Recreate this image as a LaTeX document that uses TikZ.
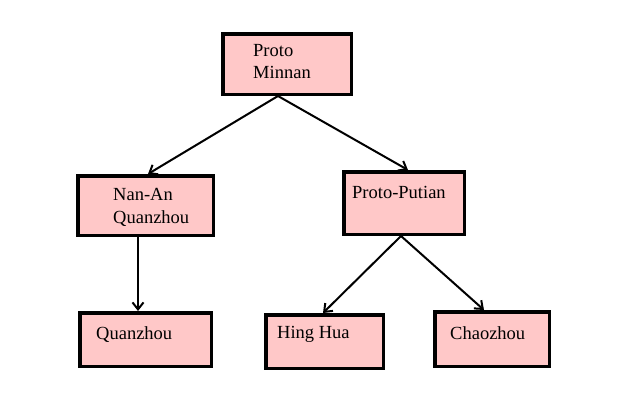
\documentclass[tikz,border=0pt]{standalone}
\usepackage{fontspec}
\setmainfont{Liberation Serif}
\usetikzlibrary{arrows.meta}
\definecolor{boxpink}{RGB}{255,200,200}
\tikzset{
  box/.style={draw=black, fill=boxpink, line width=3.5pt, rectangle, inner sep=0pt},
  lbl/.style={inner sep=0pt, anchor=base west, font=\fontsize{18.5}{22}\selectfont},
  conn/.style={draw=black, line width=2pt, -{Straight Barb[length=7pt,width=11pt,line width=2pt]}}
}
\begin{document}
\begin{tikzpicture}[x=1pt,y=-1pt]
\useasboundingbox (0,0) rectangle (631,418);
\node[box, minimum width=128.5pt, minimum height=60.5pt] (pm) at (287,64) {};
\node[box, minimum width=135.5pt, minimum height=59.5pt] (na) at (145.5,205.5) {};
\node[box, minimum width=120.5pt, minimum height=62.5pt] (pp) at (404,203) {};
\node[box, minimum width=131.5pt, minimum height=53.5pt] (qz) at (145.5,339.5) {};
\node[box, minimum width=117.5pt, minimum height=53.5pt] (hh) at (324.5,341.5) {};
\node[box, minimum width=114.5pt, minimum height=54.5pt] (cz) at (492,339) {};
\node[lbl] (t1a) at (253,56) {Proto};
\node[lbl] (t1b) at (253,78) {Minnan};
\node[lbl] (t2a) at (113,200) {Nan-An};
\node[lbl] (t2b) at (113,223) {Quanzhou};
\node[lbl] (t3) at (352,198) {Proto-Putian};
\node[lbl] (t4) at (96,339) {Quanzhou};
\node[lbl] (t5) at (277,338) {Hing Hua};
\node[lbl] (t6) at (450,339) {Chaozhou};
\draw[conn] ([xshift=-9pt]pm.south) -- ([xshift=2.5pt]na.north);
\draw[conn] ([xshift=-9pt]pm.south) -- ([xshift=4pt]pp.north);
\draw[conn] ([xshift=-7.5pt]na.south) -- ([xshift=-7.5pt]qz.north);
\draw[conn] ([xshift=-3pt]pp.south) -- ([xshift=-1.5pt]hh.north);
\draw[conn] ([xshift=-3pt]pp.south) -- ([xshift=-8pt]cz.north);
\end{tikzpicture}
\end{document}
